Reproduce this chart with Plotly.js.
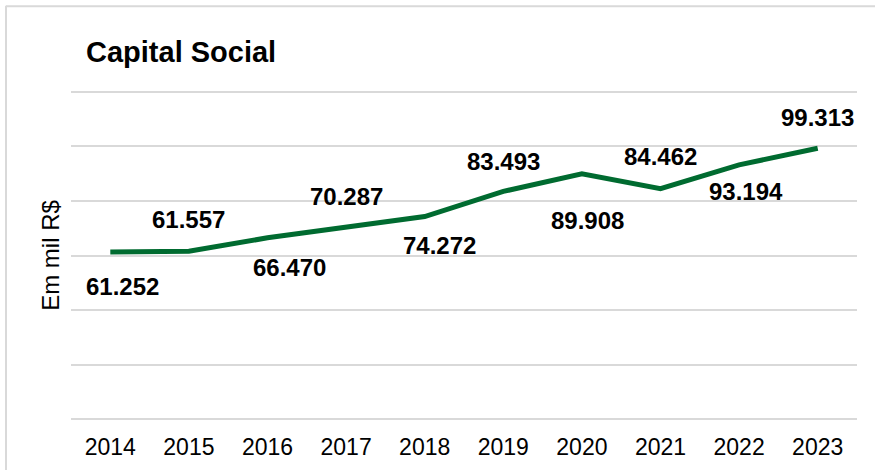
<!DOCTYPE html>
<html>
<head>
<meta charset="utf-8">
<script src="https://cdn.plot.ly/plotly-3.0.1.min.js"></script>
<style>
html,body{margin:0;padding:0;background:#fff;}
#chart{width:875px;height:470px;}
</style>
</head>
<body>
<div id="chart"></div>
<script>
var years = ['2014','2015','2016','2017','2018','2019','2020','2021','2022','2023'];
var capitalSocial = [61252, 61557, 66470, 70287, 74272, 83493, 89908, 84462, 93194, 99313];

// label placement (pixel offsets from each point), as in the original chart
var labelDx = [12, 0, 22, 0, 15, 0, 6, 0, 7, 0];
var labelDy = [-34, 32, -30, 31, -29, 30, -47, 32, -27, 31];

function fmtBR(v){
  return String(v).replace(/\B(?=(\d{3})+(?!\d))/g, '.');
}

var FONT = 'Liberation Sans, Arial, sans-serif';

var trace = {
  x: years,
  y: capitalSocial,
  type: 'scatter',
  mode: 'lines',
  line: {color: '#006b30', width: 5},
  hoverinfo: 'skip'
};

var annotations = [];
for (var i = 0; i < years.length; i++) {
  annotations.push({
    x: i, y: capitalSocial[i], xref: 'x', yref: 'y',
    text: '<b>' + fmtBR(capitalSocial[i]) + '</b>',
    showarrow: false,
    xanchor: 'center', yanchor: 'middle',
    xshift: labelDx[i],
    yshift: labelDy[i],
    font: {family: FONT, size: 24, color: '#000000'}
  });
}

// chart-area frame: only left and top edges fall inside the picture
var shapes = [
  {type: 'line', xref: 'paper', yref: 'paper',
   x0: -0.0827, x1: -0.0827, y0: -0.3, y1: 1.25,
   line: {color: '#d9d9d9', width: 2}, layer: 'below'},
  {type: 'line', xref: 'paper', yref: 'paper',
   x0: -0.0827, x1: 1.2, y0: 1.2485, y1: 1.2485,
   line: {color: '#d9d9d9', width: 2}, layer: 'below'}
];

var layout = {
  width: 875, height: 470,
  margin: {l: 71, r: 18, t: 89, b: 48},
  paper_bgcolor: '#fff', plot_bgcolor: '#fff',
  showlegend: false,
  title: {
    text: '<b>Capital Social</b>',
    x: 86/875, xanchor: 'left', xref: 'container',
    y: 1 - 52/470, yanchor: 'middle', yref: 'container',
    font: {family: FONT, size: 29, color: '#000'}
  },
  xaxis: {
    type: 'category',
    range: [-0.5, 9.5],
    showgrid: false, zeroline: false, showline: false,
    ticks: '',
    tickfont: {family: FONT, size: 23, color: '#000'},
    ticklabelstandoff: 9
  },
  yaxis: {
    range: [-1000, 121000],
    dtick: 20000, tick0: 0,
    showgrid: true, gridcolor: '#d9d9d9', gridwidth: 2,
    zeroline: false, showline: false,
    showticklabels: false, ticks: '',
    title: {text: 'Em mil R$', standoff: 3,
      font: {family: FONT, size: 24, color: '#000'}}
  },
  annotations: annotations,
  shapes: shapes
};

Plotly.newPlot('chart', [trace], layout, {staticPlot: true, displayModeBar: false});
</script>
</body>
</html>
